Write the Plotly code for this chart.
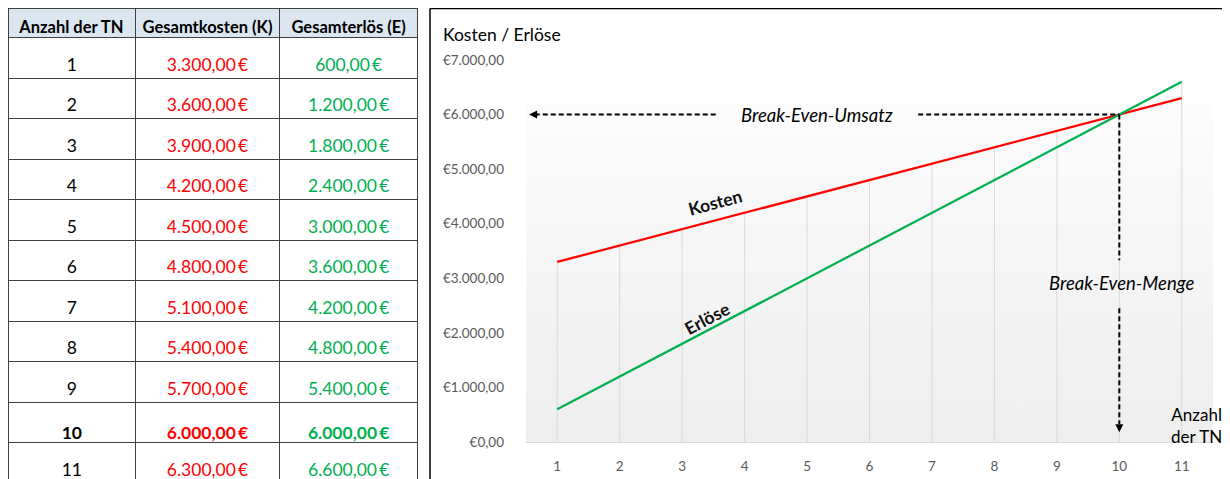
import plotly.graph_objects as go

# ---------------- data ----------------
TN = [1, 2, 3, 4, 5, 6, 7, 8, 9, 10, 11]
kosten = [3300, 3600, 3900, 4200, 4500, 4800, 5100, 5400, 5700, 6000, 6300]
erloese = [600, 1200, 1800, 2400, 3000, 3600, 4200, 4800, 5400, 6000, 6600]
table_header = ["Anzahl der TN", "Gesamtkosten (K)", "Gesamterlös (E)"]
y_ticks = [0, 1000, 2000, 3000, 4000, 5000, 6000, 7000]

# page has an 8px body margin -> figure sits at (8, 8); bottom runs past the view
OFF = 8
W, H = 1230 - OFF, 490
FONT = "Lato"
RED = "#FF0000"
GREEN = "#00B050"
CLEAR = "rgba(0,0,0,0)"


def px_x(p):
    return (p - OFF) / W


def px_y(p):
    return (H + OFF - p) / H


def de_num(v):
    return f"{v:,.2f}".replace(",", "X").replace(".", ",").replace("X", ".")


def eur(v):
    return de_num(v) + "\u2009€"


# break-even index (where costs == revenue)
be_i = next(i for i in range(len(TN)) if kosten[i] == erloese[i])
be_x, be_y = TN[be_i], kosten[be_i]


def cell(txt, i):
    return f"<b>{txt}</b>" if i == be_i else txt


col_tn = [cell(str(t), i) for i, t in enumerate(TN)]
col_k = [cell(eur(v), i) for i, v in enumerate(kosten)]
col_e = [cell(eur(v), i) for i, v in enumerate(erloese)]

fig = go.Figure()

# ---------------- table ----------------
TDOM = dict(x=[px_x(8.5), px_x(418)], y=[0, px_y(8.5)])
CW = [127, 145, 138]
HEAD_H, ROW_H = 29, 40.5
# grid + header fill
fig.add_trace(go.Table(
    domain=TDOM,
    columnwidth=CW,
    header=dict(
        values=["", "", ""],
        fill_color="#DCE6F1",
        line=dict(color="#404040", width=1),
        height=HEAD_H,
    ),
    cells=dict(
        values=[[""] * len(TN)] * 3,
        fill_color="white",
        line=dict(color="#404040", width=1),
        height=ROW_H,
    ),
))
# texts: header + cells, cell texts sitting near the bottom of each row (Excel style)
fig.add_trace(go.Table(
    domain=TDOM,
    columnwidth=CW,
    header=dict(
        values=["<b>" + h.replace(" ", "\u00a0") + "</b>" for h in table_header],
        fill_color=CLEAR,
        line=dict(color=CLEAR, width=0),
        font=dict(family=FONT, size=16.5, color="#000000"),
        align="center",
        height=HEAD_H + 12,
    ),
    cells=dict(
        values=[col_tn, col_k, col_e],
        fill_color=CLEAR,
        line=dict(color=CLEAR, width=0),
        font=dict(family=FONT, size=17.5, color=["#000000", RED, GREEN]),
        align="center",
        height=ROW_H,
    ),
))

# ---------------- chart ----------------
x_lo, x_hi = TN[0] - 0.5, TN[-1] + 0.5
grad_top = 6180
fig.add_trace(go.Scatter(
    x=[x_lo, x_hi, x_hi, x_lo, x_lo], y=[0, 0, grad_top, grad_top, 0],
    mode="none", fill="toself",
    fillgradient=dict(type="vertical",
                      colorscale=[[0, "#eeeeee"], [1, "#fcfcfc"]]),
    hoverinfo="skip", showlegend=False,
))

# drop lines (from higher series to axis)
dx, dy = [], []
for i, t in enumerate(TN):
    dx += [t, t, None]
    dy += [0, max(kosten[i], erloese[i]), None]
fig.add_trace(go.Scatter(x=dx, y=dy, mode="lines",
                         line=dict(color="#d9d9d9", width=1),
                         hoverinfo="skip", showlegend=False))

fig.add_trace(go.Scatter(x=TN, y=kosten, mode="lines", name="Kosten",
                         line=dict(color=RED, width=2.25)))
fig.add_trace(go.Scatter(x=TN, y=erloese, mode="lines", name="Erlöse",
                         line=dict(color=GREEN, width=2.25)))

fig.update_layout(
    width=W, height=H,
    margin=dict(l=0, r=0, t=0, b=0, autoexpand=False),
    paper_bgcolor="white", plot_bgcolor=CLEAR,
    showlegend=False,
    font=dict(family=FONT),
    xaxis=dict(
        domain=[px_x(526), px_x(1213)],
        range=[x_lo, x_hi],
        tickvals=TN, ticktext=[str(t) for t in TN],
        showgrid=False, zeroline=False,
        showline=True, linecolor="#d9d9d9", linewidth=1,
        ticks="", ticklabelstandoff=12,
        tickfont=dict(family=FONT, size=13.5, color="#595959"),
    ),
    yaxis=dict(
        domain=[px_y(442), px_y(60)],
        range=[0, 7000],
        tickvals=y_ticks,
        ticktext=["€" + de_num(v) for v in y_ticks],
        showgrid=False, zeroline=False, showline=False,
        ticks="", ticklabelstandoff=21,
        tickfont=dict(family=FONT, size=13.5, color="#595959"),
    ),
)

# chart frame
fig.add_shape(type="line", xref="paper", yref="paper",
              x0=px_x(430), x1=px_x(1229), y0=px_y(8.5), y1=px_y(8.5),
              line=dict(color="#000000", width=1.5))
fig.add_shape(type="line", xref="paper", yref="paper",
              x0=px_x(430), x1=px_x(430), y0=px_y(8.5), y1=0,
              line=dict(color="#000000", width=1.5))
fig.add_shape(type="line", xref="paper", yref="paper",
              x0=px_x(1229), x1=px_x(1229), y0=px_y(8.5), y1=0,
              line=dict(color="#a6a6a6", width=1.5))

# title & axis caption
fig.add_annotation(xref="paper", yref="paper", x=px_x(441), y=px_y(35),
                   xanchor="left", yanchor="middle", showarrow=False,
                   text="Kosten / Erlöse",
                   font=dict(family=FONT, size=17.5, color="#000000"))
fig.add_annotation(xref="paper", yref="paper", x=px_x(1196), y=px_y(425),
                   xanchor="center", yanchor="middle", showarrow=False,
                   text="Anzahl<br>der TN",
                   font=dict(family=FONT, size=17, color="#000000"))

# series labels
fig.add_annotation(x=3.53, y=4380, text="<b>Kosten</b>", showarrow=False,
                   textangle=-15, font=dict(family=FONT, size=17.5, color="#111111"))
fig.add_annotation(x=3.4, y=2270, text="<b>Erlöse</b>", showarrow=False,
                   textangle=-28, font=dict(family=FONT, size=17.5, color="#111111"))

# break-even annotations
DASH = dict(color="#000000", width=2, dash="5px,3px")
fig.add_annotation(x=5.16, y=be_y, text="<i>Break-Even-Umsatz</i>", showarrow=False,
                   font=dict(family=FONT, size=18.5, color="#000000"))
fig.add_shape(type="line", x0=0.64, x1=3.55, y0=be_y, y1=be_y, line=DASH)
fig.add_shape(type="line", x0=6.78, x1=be_x, y0=be_y, y1=be_y, line=DASH)
fig.add_annotation(x=0.55, y=be_y, ax=8, ay=0, text="", showarrow=True,
                   arrowhead=2, arrowsize=1, arrowwidth=1.6, arrowcolor="#000000")

fig.add_annotation(x=be_x + 0.03, y=2910, text="<i>Break-Even-Menge</i>", showarrow=False,
                   font=dict(family=FONT, size=18.5, color="#000000"))
fig.add_shape(type="line", x0=be_x, x1=be_x, y0=be_y, y1=3330, line=DASH)
fig.add_shape(type="line", x0=be_x, x1=be_x, y0=2450, y1=330, line=DASH)
fig.add_annotation(x=be_x, y=180, ax=0, ay=-8, text="", showarrow=True,
                   arrowhead=2, arrowsize=1, arrowwidth=1.6, arrowcolor="#000000")

fig.write_html("out.html")
